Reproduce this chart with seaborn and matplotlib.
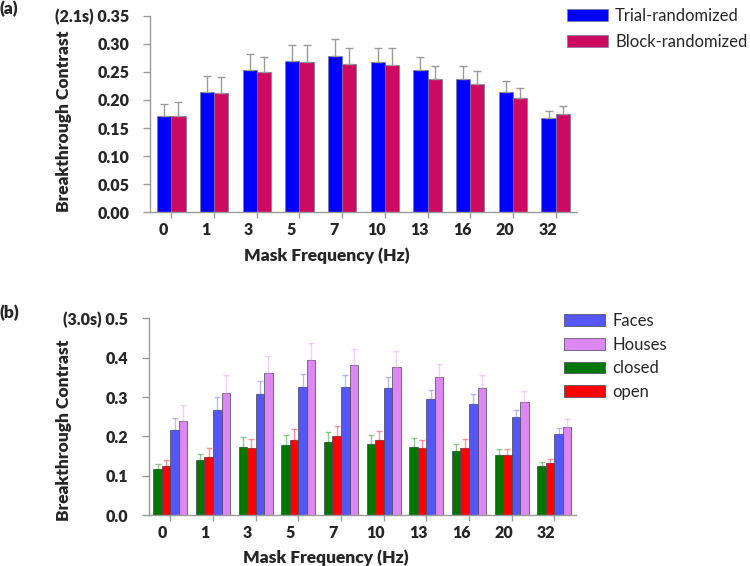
import numpy as np
import pandas as pd
import seaborn as sns
import matplotlib
matplotlib.use('Agg')
import matplotlib.pyplot as plt
from matplotlib.transforms import ScaledTranslation

# values
freqs = ['0', '1', '3', '5', '7', '10', '13', '16', '20', '32']

trial = [0.172, 0.215, 0.253, 0.269, 0.279, 0.267, 0.253, 0.237, 0.214, 0.168]
trial_err = [0.021, 0.027, 0.028, 0.028, 0.030, 0.026, 0.024, 0.023, 0.020, 0.012]
block = [0.172, 0.212, 0.250, 0.268, 0.264, 0.263, 0.238, 0.228, 0.204, 0.175]
block_err = [0.025, 0.028, 0.027, 0.029, 0.028, 0.029, 0.023, 0.024, 0.017, 0.014]

closed = [0.118, 0.140, 0.173, 0.179, 0.186, 0.181, 0.174, 0.163, 0.153, 0.126]
closed_err = [0.013, 0.016, 0.025, 0.024, 0.025, 0.023, 0.021, 0.019, 0.016, 0.008]
opened = [0.125, 0.148, 0.172, 0.190, 0.200, 0.191, 0.172, 0.172, 0.153, 0.132]
opened_err = [0.015, 0.022, 0.021, 0.028, 0.026, 0.024, 0.019, 0.021, 0.014, 0.010]
faces = [0.216, 0.267, 0.308, 0.326, 0.325, 0.322, 0.294, 0.282, 0.249, 0.206]
faces_err = [0.031, 0.032, 0.032, 0.032, 0.032, 0.028, 0.025, 0.025, 0.019, 0.015]
houses = [0.239, 0.310, 0.360, 0.394, 0.382, 0.376, 0.350, 0.322, 0.287, 0.224]
houses_err = [0.040, 0.045, 0.043, 0.042, 0.040, 0.041, 0.033, 0.034, 0.028, 0.020]

sns.set_theme(style='white')
plt.rcParams['font.family'] = ['Lato', 'DejaVu Sans']

grey = '#9a9a9a'


def long_df(series):
    rows = []
    for name, vals in series.items():
        for f, v in zip(freqs, vals):
            rows.append({'freq': f, 'cond': name, 'value': v})
    return pd.DataFrame(rows)


def style_axis(ax, ymax, step, fmt, first_label):
    ax.set_ylim(0, ymax)
    ax.set_xlim(-0.5, len(freqs) - 0.5)
    ticks = np.arange(0, ymax + step / 2, step)
    ax.set_yticks(ticks)
    labels = [fmt % t for t in ticks]
    labels[-1] = first_label + ' ' + labels[-1]
    ax.set_yticklabels(labels)
    sns.despine(ax=ax)
    for s in ['left', 'bottom']:
        ax.spines[s].set_color(grey)
        ax.spines[s].set_linewidth(1.0)
    ax.tick_params(axis='y', direction='out', length=5, width=1, color=grey,
                   pad=10, labelsize=11.5, left=True)
    ax.tick_params(axis='x', direction='out', length=4.3, width=1, color=grey,
                   pad=2.5, labelsize=11.5, bottom=True)
    for lab in ax.get_yticklabels() + ax.get_xticklabels():
        lab.set_fontweight('heavy')
    off = ScaledTranslation(-8 / 100, 0, ax.figure.dpi_scale_trans)
    for lab in ax.get_xticklabels():
        lab.set_transform(lab.get_transform() + off)
    ax.set_xlabel('Mask Frequency (Hz)', fontsize=12.5, fontweight='heavy')
    ax.set_ylabel('Breakthrough Contrast', fontsize=12.5, fontweight='heavy')


fig = plt.figure(figsize=(7.5, 5.66), dpi=100)
ax1 = fig.add_axes([0.2, 0.6249, 0.5693, 0.3474])
ax2 = fig.add_axes([0.1987, 0.0896, 0.5689, 0.3481])

# ---- panel (a)
top_names = ['Trial-randomized', 'Block-randomized']
top_pal = {'Trial-randomized': '#0000ff', 'Block-randomized': '#cc0a60'}
df1 = long_df({'Trial-randomized': trial, 'Block-randomized': block})
sns.barplot(data=df1, x='freq', y='value', hue='cond', order=freqs,
            hue_order=top_names, palette=top_pal, saturation=1, width=0.667,
            errorbar=None, edgecolor='#7a7aa0', linewidth=0.5, ax=ax1)
h1, l1 = ax1.get_legend_handles_labels()
ax1.get_legend().remove()
for k, errs in enumerate([trial_err, block_err]):
    bars = ax1.patches[k * len(freqs):(k + 1) * len(freqs)]
    xs = [b.get_x() + b.get_width() / 2 for b in bars]
    ys = [b.get_height() for b in bars]
    ax1.errorbar(xs, ys, yerr=[np.zeros(len(errs)), errs], fmt='none',
                 ecolor=grey, elinewidth=1, capsize=3, capthick=1)
style_axis(ax1, 0.35, 0.05, '%.2f', '(2.1s)')
ax1.xaxis.set_label_coords(0.4145, -0.18)
ax1.yaxis.set_label_coords(-0.183, 0.462)
fig.legend(h1, l1, loc='upper left', bbox_to_anchor=(0.7556, 0.986),
           frameon=False, fontsize=12, handlelength=2.45, handleheight=0.7,
           handletextpad=0.45, labelspacing=0.6, borderpad=0, borderaxespad=0)

# ---- panel (b)
bot_names = ['closed', 'open', 'Faces', 'Houses']
bot_pal = {'closed': '#007700', 'open': '#ff0000', 'Faces': '#5656f6',
           'Houses': '#dd88f2'}
df2 = long_df({'closed': closed, 'open': opened, 'Faces': faces,
               'Houses': houses})
sns.barplot(data=df2, x='freq', y='value', hue='cond', order=freqs,
            hue_order=bot_names, palette=bot_pal, saturation=1, width=0.8,
            errorbar=None, edgecolor='#444455', linewidth=0.5, ax=ax2)
h2, l2 = ax2.get_legend_handles_labels()
ax2.get_legend().remove()
for k, errs in enumerate([closed_err, opened_err, faces_err, houses_err]):
    bars = ax2.patches[k * len(freqs):(k + 1) * len(freqs)]
    xs = [b.get_x() + b.get_width() / 2 for b in bars]
    ys = [b.get_height() for b in bars]
    ax2.errorbar(xs, ys, yerr=[np.zeros(len(errs)), errs], fmt='none',
                 ecolor=bot_pal[bot_names[k]], alpha=0.4, elinewidth=1,
                 capsize=2.5, capthick=1)
style_axis(ax2, 0.5, 0.1, '%.1f', '(3.0s)')
ax2.xaxis.set_label_coords(0.415, -0.174)
ax2.yaxis.set_label_coords(-0.180, 0.433)
order = [2, 3, 0, 1]
fig.legend([h2[i] for i in order], [l2[i] for i in order], loc='upper left',
           bbox_to_anchor=(0.752, 0.447), frameon=False, fontsize=12,
           handlelength=2.45, handleheight=0.7, handletextpad=0.45,
           labelspacing=0.46, borderpad=0, borderaxespad=0)

fig.text(0.0, 1 - 9 / 566, '(a)', fontsize=12.5, fontweight='heavy', va='center')
fig.text(0.0, 1 - 312.5 / 566, '(b)', fontsize=12.5, fontweight='heavy',
         va='center')

fig.savefig('out.png', dpi=100)
